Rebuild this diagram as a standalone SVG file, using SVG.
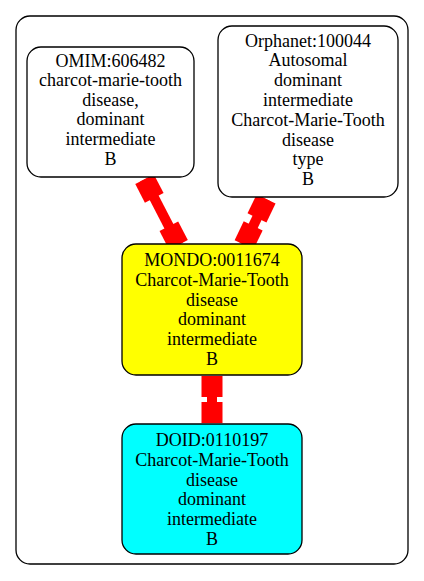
<svg xmlns="http://www.w3.org/2000/svg" width="424" height="581" viewBox="0 0 424 581">
<style>
.cluster{fill:#ffffff;stroke:#000000;stroke-width:1.3}
.node{stroke:#000000;stroke-width:1.3}
.t{font-family:"Liberation Serif","Times New Roman",serif;font-size:18px;text-anchor:middle;fill:#000000}
.e{fill:#ff0000;stroke:none}
</style>
<rect width="424" height="581" fill="#ffffff"/>
<rect class="cluster" x="16" y="16" width="392" height="548" rx="14" ry="14"/>
<g id="edges">
  <g transform="translate(144.6,179.2) rotate(62.7)">
    <rect class="e" x="0" y="-5" width="73.9" height="10"/>
    <rect class="e" x="0" y="-10.5" width="21" height="21"/>
    <rect class="e" x="52.9" y="-10.5" width="21" height="21"/>
  </g>
  <g transform="translate(266.1,199) rotate(115.7)">
    <rect class="e" x="0" y="-5" width="50.8" height="10"/>
    <rect class="e" x="0" y="-10.5" width="21" height="21"/>
    <rect class="e" x="29.8" y="-10.5" width="21" height="21"/>
  </g>
  <g transform="translate(212,376) rotate(90)">
    <rect class="e" x="0" y="-5" width="47" height="10"/>
    <rect class="e" x="0" y="-10.5" width="21" height="21"/>
    <rect class="e" x="26" y="-10.5" width="21" height="21"/>
  </g>
</g>
<g id="omim">
  <rect class="node" x="27" y="47" width="167" height="130" rx="14" ry="14" fill="#ffffff"/>
  <text class="t" x="110.5" y="66.5">OMIM:606482</text>
  <text class="t" x="110.5" y="86.1">charcot-marie-tooth</text>
  <text class="t" x="110.5" y="105.7">disease,</text>
  <text class="t" x="110.5" y="125.3">dominant</text>
  <text class="t" x="110.5" y="144.9">intermediate</text>
  <text class="t" x="110.5" y="164.5">B</text>
</g>
<g id="orphanet">
  <rect class="node" x="218" y="26" width="180" height="171" rx="14" ry="14" fill="#ffffff"/>
  <text class="t" x="308" y="46.5">Orphanet:100044</text>
  <text class="t" x="308" y="66.3">Autosomal</text>
  <text class="t" x="308" y="86.1">dominant</text>
  <text class="t" x="308" y="105.9">intermediate</text>
  <text class="t" x="308" y="125.7">Charcot-Marie-Tooth</text>
  <text class="t" x="308" y="145.5">disease</text>
  <text class="t" x="308" y="165.3">type</text>
  <text class="t" x="308" y="185.1">B</text>
</g>
<g id="mondo">
  <rect class="node" x="122" y="244" width="180" height="131" rx="14" ry="14" fill="#ffff00"/>
  <text class="t" x="212" y="266">MONDO:0011674</text>
  <text class="t" x="212" y="285.8">Charcot-Marie-Tooth</text>
  <text class="t" x="212" y="305.6">disease</text>
  <text class="t" x="212" y="325.4">dominant</text>
  <text class="t" x="212" y="345.2">intermediate</text>
  <text class="t" x="212" y="365">B</text>
</g>
<g id="doid">
  <rect class="node" x="122" y="424" width="180" height="130" rx="14" ry="14" fill="#00ffff"/>
  <text class="t" x="212" y="446">DOID:0110197</text>
  <text class="t" x="212" y="465.8">Charcot-Marie-Tooth</text>
  <text class="t" x="212" y="485.6">disease</text>
  <text class="t" x="212" y="505.4">dominant</text>
  <text class="t" x="212" y="525.2">intermediate</text>
  <text class="t" x="212" y="545">B</text>
</g>
</svg>
